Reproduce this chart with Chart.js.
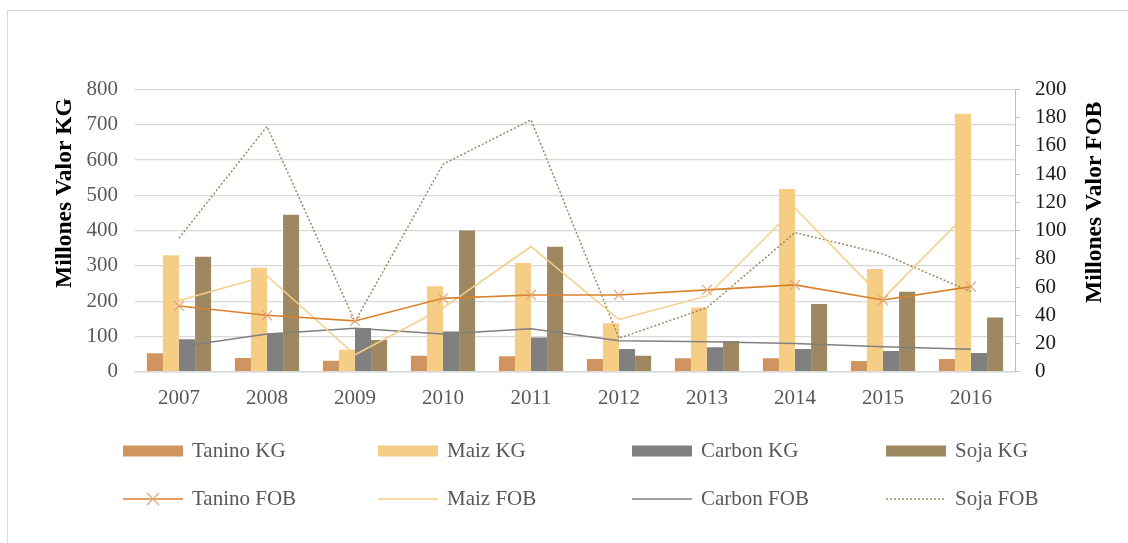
<!DOCTYPE html>
<html>
<head>
<meta charset="utf-8">
<script src="https://cdn.jsdelivr.net/npm/chart.js@4.4.0/dist/chart.umd.min.js"></script>
<style>
    html, body { margin: 0; padding: 0; background: #fff; }
    #wrap { position: relative; width: 1128px; height: 543px; overflow: hidden; font-family: "Liberation Serif", "Times New Roman", serif; }
    #frame { position: absolute; left: 7px; top: 10px; width: 1300px; height: 700px; border-left: 1px solid #d9d9d9; border-top: 1px solid #d9d9d9; }
    #c { position: absolute; left: 0; top: 0; }
    .lg { position: absolute; display: flex; align-items: center; font-size: 21px; color: #595959; white-space: nowrap; line-height: 1; }
    .lg svg { margin-right: 9px; flex: none; }
</style>
</head>
<body>
<div id="wrap">
    <div id="frame"></div>
    <canvas id="c" width="1128" height="543"></canvas>
    <div id="legend"></div>
</div>
<script>
// data
const years = ['2007', '2008', '2009', '2010', '2011', '2012', '2013', '2014', '2015', '2016'];

// left axis (Millones Valor KG)
const taninoKG = [52, 39, 31, 45, 44, 36, 38, 38, 30, 36];
const maizKG = [330, 295, 62, 242, 308, 137, 182, 518, 291, 731];
const carbonKG = [92, 109, 124, 114, 97, 64, 69, 64, 59, 53];
const sojaKG = [326, 445, 90, 400, 354, 45, 87, 192, 227, 154];

// right axis (Millones Valor FOB)
const taninoFOB = [46.6, 40, 36, 52, 54.4, 54.4, 58, 61.5, 50.8, 60.3];
const maizFOB = [50.4, 68, 12, 45, 88.7, 37, 53.7, 116, 52, 115];
const carbonFOB = [17.7, 26.7, 30.8, 26.7, 30.5, 22, 21.3, 20, 17.7, 15.9];
const sojaFOB = [94.6, 173.8, 35.5, 147, 178.5, 23.7, 45.4, 98.6, 83.5, 56.7];

const kgMax = 800, kgStep = 100;
const fobMax = 200, fobStep = 20;

const FONT = '"Liberation Serif", "Times New Roman", serif';

const colors = {
    tanino: '#d09460',
    maiz: '#f5cd84',
    carbon: '#808080',
    soja: '#9e8862',
    taninoLine: '#d9822b',
    taninoMark: '#e0a57c'
};

function barSet(label, data, color) {
    return {
        type: 'bar', label, data, yAxisID: 'y', order: 1,
        backgroundColor: color, borderWidth: 0,
        categoryPercentage: 0.73, barPercentage: 1.0
    };
}

function lineSet(label, data, color, extra) {
    return Object.assign({
        type: 'line', label, data, yAxisID: 'y1', order: 0,
        borderColor: color, backgroundColor: color, borderWidth: 1.5,
        pointRadius: 0, tension: 0, fill: false
    }, extra || {});
}

const datasets = [
    barSet('Tanino KG', taninoKG, colors.tanino),
    barSet('Maiz KG', maizKG, colors.maiz),
    barSet('Carbon KG', carbonKG, colors.carbon),
    barSet('Soja KG', sojaKG, colors.soja),
    lineSet('Tanino FOB', taninoFOB, colors.taninoLine, {
        pointStyle: 'crossRot', pointRadius: 7, pointBorderColor: colors.taninoMark,
        pointBorderWidth: 1.2, borderWidth: 1.6
    }),
    lineSet('Maiz FOB', maizFOB, colors.maiz),
    lineSet('Carbon FOB', carbonFOB, colors.carbon),
    lineSet('Soja FOB', sojaFOB, colors.soja, { borderDash: [2, 2] })
];

// both axis titles read bottom-to-top, so draw them here
const axisTitles = {
    id: 'axisTitles',
    afterDraw(chart) {
        const ctx = chart.ctx;
        ctx.save();
        ctx.fillStyle = '#000';
        ctx.font = 'bold 23.5px ' + FONT;
        ctx.textAlign = 'left';
        ctx.textBaseline = 'middle';
        [['Millones Valor KG', 65, 288], ['Millones Valor FOB', 1095, 303]].forEach(([t, x, y]) => {
            ctx.save();
            ctx.translate(x, y);
            ctx.rotate(-Math.PI / 2);
            ctx.fillText(t, 0, 0);
            ctx.restore();
        });
        ctx.restore();
    }
};

new Chart(document.getElementById('c'), {
    type: 'bar',
    data: { labels: years, datasets },
    plugins: [axisTitles],
    options: {
        responsive: false,
        animation: false,
        devicePixelRatio: 1,
        layout: { padding: { top: 89.5, left: 0, right: 0, bottom: 0 } },
        plugins: { legend: { display: false }, tooltip: { enabled: false } },
        scales: {
            x: {
                afterFit(s) { s.height = 171.3; },
                grid: { display: false, drawTicks: false },
                border: { display: true, color: '#d9d9d9', width: 1.5 },
                ticks: { color: '#595959', font: { family: FONT, size: 21 }, padding: 14 }
            },
            y: {
                position: 'left',
                min: 0, max: kgMax,
                afterFit(s) { s.width = 135; },
                grid: { color: '#d9d9d9', lineWidth: 1.3, drawTicks: false },
                border: { display: false },
                ticks: { stepSize: kgStep, color: '#595959', font: { family: FONT, size: 21 }, padding: 17 }
            },
            y1: {
                position: 'right',
                min: 0, max: fobMax,
                afterFit(s) { s.width = 113; },
                grid: { drawOnChartArea: false, drawTicks: true, tickLength: 5, color: '#bfbfbf', tickColor: '#bfbfbf' },
                border: { display: true, color: '#bfbfbf', width: 1 },
                ticks: { stepSize: fobStep, color: '#1a1a1a', font: { family: FONT, size: 21 }, padding: 15 }
            }
        }
    }
});

// html legend, two rows of four
function swatch(ds) {
    const w = 60, h = 16;
    let inner;
    if (ds.type === 'bar') {
        inner = `<rect x="0" y="2.5" width="${w}" height="11" fill="${ds.backgroundColor}"/>`;
    } else {
        const dash = ds.borderDash ? `stroke-dasharray="${ds.borderDash.join(',')}"` : '';
        inner = `<line x1="0" y1="8" x2="${w}" y2="8" stroke="${ds.borderColor}" stroke-width="${ds.borderWidth}" ${dash}/>`;
        if (ds.pointStyle === 'crossRot') {
            inner += `<path d="M24 2 L36 14 M36 2 L24 14" stroke="${ds.pointBorderColor}" stroke-width="1.2"/>`;
        }
    }
    return `<svg width="${w}" height="${h}">${inner}</svg>`;
}

const colX = [123, 378, 632, 886];
const rowY = [450.5, 498.5];
const legend = document.getElementById('legend');
datasets.forEach((ds, i) => {
    const el = document.createElement('div');
    el.className = 'lg';
    el.style.left = colX[i % 4] + 'px';
    el.style.top = (rowY[Math.floor(i / 4)] - 11) + 'px';
    el.style.height = '22px';
    el.innerHTML = swatch(ds) + '<span>' + ds.label + '</span>';
    legend.appendChild(el);
});
</script>
</body>
</html>
